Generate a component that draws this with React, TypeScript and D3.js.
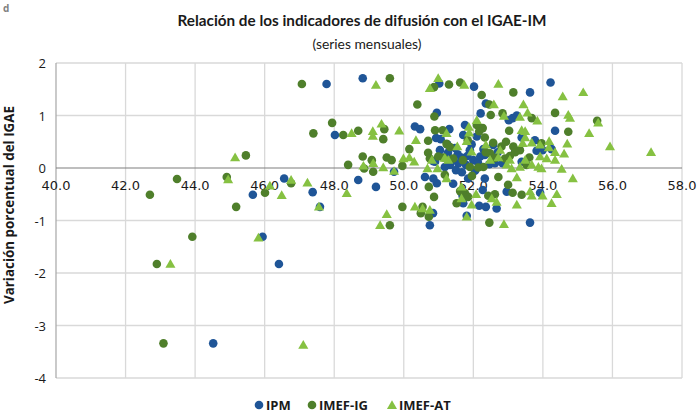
import React from "react";
import * as d3 from "d3";

const title = "Relación de los indicadores de difusión con el IGAE-IM";
const subtitle = "(series mensuales)";
const yTitle = "Variación porcentual del IGAE";
const xTicks = [40, 42, 44, 46, 48, 50, 52, 54, 56, 58];
const yTicks = [-4, -3, -2, -1, 0, 1, 2];
const seriesNames = ["IPM", "IMEF-IG", "IMEF-AT"];

const ipm: [number, number][] = [
  [44.52, -3.34], [45.94, -1.31], [46.41, -1.83], [47.59, -0.74], [45.66, -0.51], [46.56, -0.2],
  [47.38, -0.46], [47.78, 1.6], [48.02, 0.63], [48.82, 1.71], [51.02, 1.61], [52.02, 1.55],
  [54.22, 1.63], [53.63, 1.44], [52.36, 1.23], [50.95, 1.05], [52.21, 1.04], [53.02, 0.91],
  [53.13, 0.95], [53.25, 1.0], [50.32, 0.79], [50.47, 0.74], [50.93, 0.57], [51.31, 0.74],
  [51.06, 0.55], [51.76, 0.82], [51.71, 0.63], [52.1, 0.6], [53.39, 0.58], [53.77, 0.53],
  [54.35, 0.71], [54.25, 0.36], [53.99, 0.34], [53.82, 0.33], [53.2, 0.31], [52.57, 0.44],
  [52.29, 0.36], [50.9, 0.12], [51.33, 0.06], [51.57, 0.09], [51.66, 0.2], [51.79, 0.06],
  [51.83, 0.23], [52.0, 0.15], [52.46, 0.07], [52.33, 0.25], [52.62, 0.09], [52.84, 0.09],
  [53.39, 0.12], [48.69, -0.23], [49.2, -0.36], [49.72, -0.07], [50.61, -0.17], [50.95, -0.29],
  [51.42, -0.3], [51.69, -0.53], [51.71, -0.67], [52.17, -0.72], [52.36, -0.74], [52.67, -0.77],
  [52.33, -0.2], [52.27, -0.42], [52.96, -0.45], [53.92, -0.47], [53.63, -1.04], [51.81, -0.91],
  [50.75, -1.09], [50.75, -0.88], [50.85, 0.13], [51.04, 0.34], [51.27, 0.29], [51.47, 0.38],
  [51.9, 0.34], [52.13, 0.11], [51.18, 0.02], [51.5, -0.04], [51.67, -0.08], [50.84, -0.86],
  [50.85, -0.2], [51.55, 0.26], [51.95, 0.45], [52.2, 0.22], [51.4, 0.15], [52.05, -0.05],
  [51.25, 0.45], [52.7, 0.3], [51.85, -0.2],
];

const imefIg: [number, number][] = [
  [42.7, -0.51], [43.48, -0.21], [44.91, -0.17], [45.46, 0.24], [45.18, -0.74], [46.01, -0.47],
  [46.76, -0.29], [47.07, 1.6], [47.4, 0.66], [47.94, 0.86], [48.26, 0.63], [48.4, 0.06],
  [42.9, -1.83], [43.09, -3.34], [43.92, -1.31], [49.6, 1.71], [50.87, 1.54], [51.3, 1.59],
  [51.62, 1.63], [53.15, 1.44], [52.24, 1.39], [50.39, 1.21], [52.46, 1.21], [50.88, 0.98],
  [52.5, 1.01], [52.84, 1.04], [53.68, 0.95], [54.35, 1.05], [55.56, 0.9], [48.69, 0.71],
  [49.44, 0.74], [49.41, 0.55], [50.16, 0.36], [50.7, 0.52], [50.9, 0.72], [51.12, 0.72],
  [51.23, 0.46], [52.1, 0.82], [52.27, 0.76], [51.84, 0.53], [52.17, 0.7], [52.33, 0.58],
  [53.03, 0.71], [54.73, 0.69], [53.34, 0.34], [52.81, 0.41], [53.15, 0.41], [48.82, 0.22],
  [49.08, 0.15], [49.51, 0.2], [49.65, 0.15], [49.96, 0.04], [50.7, 0.29], [50.75, 0.18],
  [50.99, 0.22], [51.14, 0.2], [51.42, 0.18], [51.9, 0.02], [52.14, 0.01], [52.29, 0.02],
  [52.48, 0.28], [52.91, 0.18], [53.05, 0.23], [53.53, 0.06], [53.61, 0.2], [48.86, -0.01],
  [49.12, -0.07], [50.72, -0.36], [50.87, -0.55], [49.96, -0.74], [50.49, -0.86], [50.54, -0.74],
  [50.72, -0.93], [49.6, -1.09], [51.76, -0.48], [51.85, -0.55], [51.52, -0.67], [52.46, -1.04],
  [52.62, -0.5], [52.72, -0.17], [53.0, -0.32], [53.13, -0.47], [53.39, -0.51], [53.96, 0.47],
  [52.94, 0.5], [52.57, 0.48], [52.43, -0.53], [51.62, -0.44], [51.33, 0.4], [51.7, 0.15],
  [52.36, 0.3], [52.62, 0.19], [53.2, 0.3], [51.18, -0.13], [51.96, -0.15],
];

const imefAt: [number, number][] = [
  [43.29, -1.83], [45.82, -1.33], [47.56, -0.74], [47.11, -3.37], [45.15, 0.2], [44.95, -0.22],
  [46.15, -0.34], [46.49, -0.52], [46.76, -0.23], [47.23, -0.28], [48.36, -0.48], [48.5, 0.66],
  [49.2, 1.58], [50.99, 1.71], [50.75, 1.52], [51.74, 1.58], [52.72, 1.6], [54.57, 1.36],
  [55.16, 1.44], [52.59, 1.21], [53.44, 1.21], [52.88, 0.99], [53.34, 0.97], [53.56, 1.05],
  [53.84, 0.9], [54.73, 1.01], [54.78, 0.95], [55.59, 0.86], [49.11, 0.7], [49.11, 0.61],
  [49.36, 0.84], [49.87, 0.71], [50.35, 0.53], [51.23, 0.66], [51.87, 0.78], [51.88, 0.67],
  [51.81, 0.51], [52.1, 0.91], [53.39, 0.72], [53.49, 0.7], [53.49, 0.58], [53.42, 0.47],
  [53.68, 0.48], [53.92, 0.44], [55.33, 0.66], [54.7, 0.46], [55.93, 0.41], [57.11, 0.3],
  [54.17, 0.39], [54.18, 0.51], [52.36, 0.44], [52.77, 0.34], [51.54, 0.41], [51.95, 0.31],
  [48.84, 0.04], [49.12, 0.09], [49.41, 0.01], [49.99, 0.18], [50.16, 0.2], [50.3, 0.12],
  [50.68, -0.01], [50.97, -0.01], [51.28, 0.15], [52.72, 0.2], [52.96, 0.06], [53.1, -0.01],
  [53.34, 0.02], [53.49, 0.15], [53.68, 0.06], [53.87, 0.02], [53.92, 0.22], [54.11, 0.18],
  [54.35, 0.15], [54.54, -0.02], [54.35, 0.3], [54.61, 0.27], [54.86, -0.2], [49.72, -0.06],
  [49.51, -0.88], [49.32, -1.09], [50.32, -0.74], [50.54, -0.77], [50.75, -0.8], [51.23, -0.2],
  [51.66, -0.36], [51.66, -0.58], [51.81, -0.93], [51.95, -0.7], [52.08, -0.5], [52.53, -0.58],
  [52.67, -0.65], [52.88, -1.07], [53.25, -0.18], [53.25, -0.7], [53.63, -0.45], [53.68, -0.53],
  [53.99, -0.53], [54.25, -0.67], [54.4, -0.5], [50.81, 0.15], [51.18, 0.19], [52.48, 0.15],
  [53.05, 0.15], [53.96, -0.01],
];

const colors = ["#1f5597", "#4f7f2b", "#86c142"];

export default function App() {
  const W = 699, H = 413;
  const x = d3.scaleLinear().domain([40, 58]).range([56, 682]);
  const y = d3.scaleLinear().domain([-4, 2]).range([378, 63]);
  const circle = d3.symbol().type(d3.symbolCircle).size(58)()!;
  const tri = d3.symbol().type(d3.symbolTriangle).size(44)()!;
  const font = "'Open Sans', 'Noto Sans', sans-serif";
  const data = [ipm, imefIg, imefAt];
  const legendX = [259, 312, 392];
  return (
    <svg width={W} height={H} style={{ position: "absolute", left: 0, top: 0, background: "#fff" }}>
      <text x={3} y={12} fontSize={10} fontWeight="bold" fill="#7f7f7f" fontFamily={font}>d</text>
      <text x={362} y={26} textAnchor="middle" fontSize={15} fontWeight="bold" fill="#1a1a1a"
        fontFamily="Lato, 'Open Sans', sans-serif" textLength={369} lengthAdjust="spacingAndGlyphs">{title}</text>
      <text x={367} y={49} textAnchor="middle" fontSize={13.5} fill="#1a1a1a"
        fontFamily="Lato, 'Open Sans', sans-serif" textLength={109} lengthAdjust="spacingAndGlyphs">{subtitle}</text>
      {/* grid */}
      {xTicks.slice(1).map((t) => (
        <line key={"gx" + t} x1={x(t)} x2={x(t)} y1={y(2)} y2={y(-4)} stroke="#d9d9d9" strokeWidth={1.3} />
      ))}
      {yTicks.filter((t) => t !== 0).map((t) => (
        <line key={"gy" + t} x1={x(40)} x2={x(58)} y1={y(t)} y2={y(t)} stroke="#d9d9d9" strokeWidth={1.3} />
      ))}
      <line x1={x(40)} x2={x(40)} y1={y(2)} y2={y(-4)} stroke="#a6a6a6" strokeWidth={1.2} />
      <line x1={x(40)} x2={x(58)} y1={y(0)} y2={y(0)} stroke="#7f7f7f" strokeWidth={1.2} />
      {/* y tick labels */}
      {yTicks.map((t) => (
        <text key={"yl" + t} x={46} y={y(t) + 5} textAnchor="end" fontSize={13} fill="#1a1a1a" fontFamily={font}>{t}</text>
      ))}
      {/* x tick labels */}
      {xTicks.map((t) => (
        <text key={"xl" + t} x={x(t)} y={y(0) + 22} textAnchor="middle" fontSize={13} fill="#1a1a1a"
          fontFamily="'DejaVu Sans', sans-serif">{t.toFixed(1)}</text>
      ))}
      <text transform={`translate(14,205) rotate(-90)`} textAnchor="middle" fontSize={13.5} fontWeight="bold"
        fill="#1a1a1a" fontFamily={font} textLength={198} lengthAdjust="spacingAndGlyphs">{yTitle}</text>
      {/* points */}
      {data.map((s, i) => (
        <g key={"s" + i} fill={colors[i]}>
          {s.map(([a, b], j) => (
            <path key={j} d={i === 2 ? tri : circle} transform={`translate(${x(a)},${y(b) + (i === 2 ? 0.8 : 0)})`} />
          ))}
        </g>
      ))}
      {/* legend */}
      {seriesNames.map((n, i) => (
        <g key={"lg" + n} transform={`translate(${legendX[i]},405)`}>
          <path d={i === 2 ? tri : circle} fill={colors[i]} transform={i === 2 ? "translate(0,1)" : ""} />
          <text x={7} y={5} fontSize={13} fontWeight="bold" fill="#1a1a1a" fontFamily={font}>{n}</text>
        </g>
      ))}
    </svg>
  );
}
